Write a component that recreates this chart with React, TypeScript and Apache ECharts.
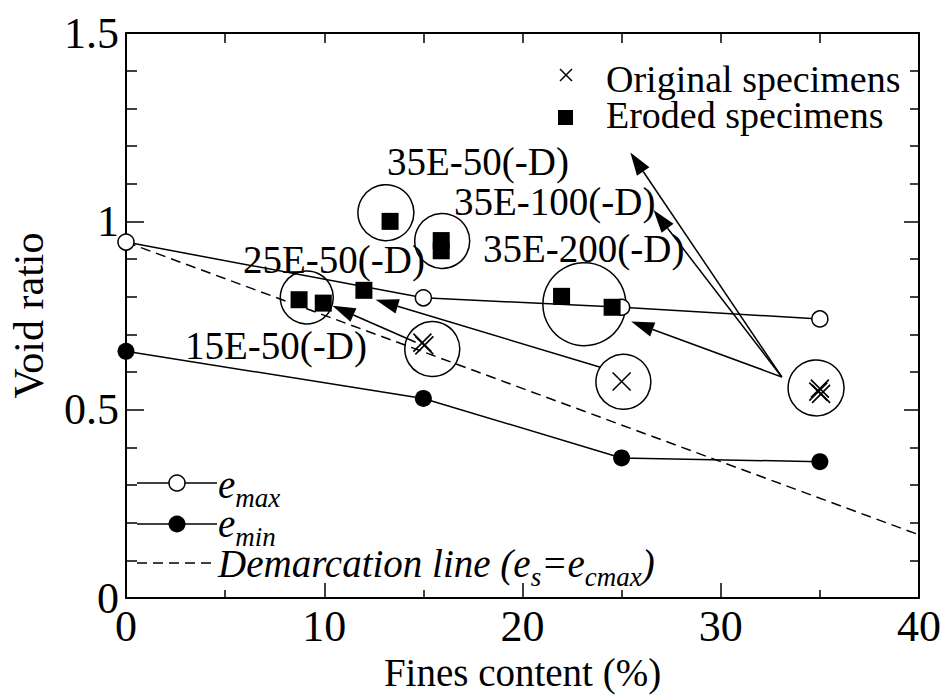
import React, { useEffect, useRef } from "react";
import * as echarts from "echarts";

// ---------- data ----------
const fines = [0, 15, 25, 35];
const eMax = [0.945, 0.797, 0.772, 0.741];
const eMin = [0.655, 0.53, 0.372, 0.362];

const demarcationX = [0, 40];
const demarcationY = [0.945, 0.168];

const originalX = [14.95, 15.05, 25.0, 34.92, 35.0, 35.06];
const originalY = [0.678, 0.671, 0.575, 0.548, 0.556, 0.542];

const erodedX = [8.73, 9.95, 12.0, 13.32, 15.9, 15.9, 21.97, 24.52];
const erodedY = [0.792, 0.783, 0.817, 1.0, 0.949, 0.922, 0.801, 0.772];

const ringX = [9.12, 13.11, 15.95, 23.12, 15.45, 25.09, 34.81];
const ringY = [0.798, 1.023, 0.948, 0.78, 0.661, 0.574, 0.558];
const ringSize = [53, 56, 55, 83, 55, 55, 56];

const arrowFromX = [14.61, 23.93, 33.08, 33.08, 33.08];
const arrowFromY = [0.679, 0.613, 0.587, 0.587, 0.587];
const arrowToX = [10.41, 12.59, 25.48, 26.61, 25.44];
const arrowToY = [0.776, 0.792, 0.734, 1.03, 1.183];

const groupLabels = ["35E-50(-D)", "35E-100(-D)", "35E-200(-D)", "25E-50(-D)", "15E-50(-D)"];
const legendNames = ["Original specimens", "Eroded specimens"];
const xAxisTitle = "Fines content (%)";
const yAxisTitle = "Void ratio";

// ---------- style helpers ----------
const SERIF = "Liberation Serif, Times New Roman, serif";

let measureCtx: CanvasRenderingContext2D | null = null;
function textWidth(text: string, size: number, italic: boolean) {
  if (!measureCtx) measureCtx = document.createElement("canvas").getContext("2d");
  if (!measureCtx) return text.length * size * 0.45;
  measureCtx.font = `${italic ? "italic " : ""}${size}px "Liberation Serif"`;
  return measureCtx.measureText(text).width;
}

// builds an italic line with subscripts: parts = [text, isSub]
function italicChain(x0: number, baseline: number, parts: [string, boolean][]) {
  const MAIN = 39;
  const SUB = 27;
  const out: any[] = [];
  let x = x0;
  for (const [t, sub] of parts) {
    const size = sub ? SUB : MAIN;
    const base = sub ? baseline + 9.5 : baseline;
    out.push({
      type: "text",
      x,
      y: base - 0.3375 * size,
      silent: true,
      style: {
        text: t,
        fill: "#000",
        fontSize: size,
        fontStyle: "italic",
        fontFamily: SERIF,
        align: "left",
        verticalAlign: "middle",
      },
    });
    x += textWidth(t, size, true);
  }
  return out;
}

function plainText(text: string, x: number, y: number, size: number) {
  return {
    type: "text",
    x,
    y,
    silent: true,
    style: {
      text,
      fill: "#000",
      fontSize: size,
      fontFamily: SERIF,
      align: "left",
      verticalAlign: "middle",
    },
  };
}

export default function App() {
  const ref = useRef<HTMLDivElement>(null);

  useEffect(() => {
    document.body.style.margin = "0";
    if (!ref.current) return;
    const chart = echarts.init(ref.current, undefined, { renderer: "svg" });

    const axisLine = { show: true, onZero: false, lineStyle: { color: "#000", width: 2 } };
    const tickStyle = { color: "#000", width: 1.5 };

    const labelPos: [number, number][] = [
      [387, 161],
      [454, 201],
      [483, 248],
      [243, 259],
      [185, 345],
    ];

    const graphics: any[] = [];
    groupLabels.forEach((t, i) => graphics.push(plainText(t, labelPos[i][0], labelPos[i][1], 39)));

    // top-right legend
    graphics.push({
      type: "group",
      silent: true,
      children: [
        { type: "line", shape: { x1: 560, y1: 69, x2: 572, y2: 81 }, style: { stroke: "#000", lineWidth: 1.5 } },
        { type: "line", shape: { x1: 560, y1: 81, x2: 572, y2: 69 }, style: { stroke: "#000", lineWidth: 1.5 } },
        { type: "rect", shape: { x: 558, y: 110, width: 15, height: 15 }, style: { fill: "#000" } },
      ],
    });
    graphics.push(plainText(legendNames[0], 606, 92 - 0.3375 * 38, 38));
    graphics.push(plainText(legendNames[1], 606, 128 - 0.3375 * 38, 38));

    // bottom-left legend
    graphics.push({
      type: "group",
      silent: true,
      children: [
        { type: "line", shape: { x1: 137, y1: 483, x2: 217, y2: 483 }, style: { stroke: "#000", lineWidth: 1.5 } },
        { type: "circle", shape: { cx: 177, cy: 483, r: 8 }, style: { fill: "#fff", stroke: "#000", lineWidth: 1.5 } },
        { type: "line", shape: { x1: 137, y1: 524, x2: 217, y2: 524 }, style: { stroke: "#000", lineWidth: 1.5 } },
        { type: "circle", shape: { cx: 177, cy: 524, r: 8.5 }, style: { fill: "#000" } },
        {
          type: "line",
          shape: { x1: 137, y1: 563, x2: 217, y2: 563 },
          style: { stroke: "#000", lineWidth: 1.5, lineDash: [10, 6] },
        },
      ],
    });
    graphics.push(...italicChain(218, 498, [["e", false], ["max", true]]));
    graphics.push(...italicChain(218, 537, [["e", false], ["min", true]]));
    graphics.push(
      ...italicChain(218, 577, [
        ["Demarcation line (", false],
        ["e", false],
        ["s", true],
        ["=", false],
        ["e", false],
        ["cmax", true],
        [")", false],
      ])
    );

    const option: any = {
      animation: false,
      backgroundColor: "#fff",
      grid: { left: 125, right: 26, top: 33, bottom: 97, containLabel: false },
      xAxis: [
        {
          type: "value",
          min: 0,
          max: 40,
          interval: 10,
          position: "bottom",
          axisLine,
          axisTick: { show: true, inside: true, length: 15, lineStyle: tickStyle },
          minorTick: { show: true, splitNumber: 2, length: 8, lineStyle: tickStyle },
          splitLine: { show: false },
          minorSplitLine: { show: false },
          axisLabel: { color: "#000", fontSize: 44, fontFamily: SERIF, margin: 6 },
          name: xAxisTitle,
          nameLocation: "middle",
          nameGap: 44,
          nameTextStyle: { color: "#000", fontSize: 39, fontFamily: SERIF },
        },
        {
          type: "value",
          min: 0,
          max: 40,
          interval: 5,
          position: "top",
          axisLine,
          axisTick: { show: true, inside: true, length: 10, lineStyle: tickStyle },
          splitLine: { show: false },
          axisLabel: { show: false },
        },
      ],
      yAxis: [
        {
          type: "value",
          min: 0,
          max: 1.5,
          interval: 0.5,
          position: "left",
          axisLine,
          axisTick: { show: true, inside: true, length: 18, lineStyle: tickStyle },
          minorTick: { show: true, splitNumber: 5, length: 11, lineStyle: tickStyle },
          splitLine: { show: false },
          minorSplitLine: { show: false },
          axisLabel: { color: "#000", fontSize: 44, fontFamily: SERIF, margin: 7 },
          name: yAxisTitle,
          nameLocation: "middle",
          nameGap: 76,
          nameTextStyle: { color: "#000", fontSize: 42, fontFamily: SERIF },
        },
        {
          type: "value",
          min: 0,
          max: 1.5,
          interval: 0.5,
          position: "right",
          axisLine,
          axisTick: { show: true, inside: true, length: 15, lineStyle: tickStyle },
          minorTick: { show: true, splitNumber: 5, length: 9, lineStyle: tickStyle },
          splitLine: { show: false },
          minorSplitLine: { show: false },
          axisLabel: { show: false },
        },
      ],
      series: [
        {
          name: "demarcation",
          type: "line",
          silent: true,
          data: demarcationX.map((x, i) => [x, demarcationY[i]]),
          symbol: "none",
          lineStyle: { color: "#000", width: 1.5, type: [10, 6] },
          z: 2,
        },
        {
          name: "emax",
          type: "line",
          silent: true,
          data: fines.map((x, i) => [x, eMax[i]]),
          symbol: "circle",
          symbolSize: 16,
          lineStyle: { color: "#000", width: 1.5 },
          itemStyle: { color: "#fff", borderColor: "#000", borderWidth: 1.5, opacity: 1 },
          z: 3,
        },
        {
          name: "emin",
          type: "line",
          silent: true,
          data: fines.map((x, i) => [x, eMin[i]]),
          symbol: "circle",
          symbolSize: 17,
          lineStyle: { color: "#000", width: 1.5 },
          itemStyle: { color: "#000", opacity: 1 },
          z: 3,
        },
        {
          name: "rings",
          type: "scatter",
          silent: true,
          data: ringX.map((x, i) => [x, ringY[i], ringSize[i]]),
          symbol: "circle",
          symbolSize: (v: number[]) => v[2],
          itemStyle: { color: "rgba(0,0,0,0)", borderColor: "#000", borderWidth: 1.5, opacity: 1 },
          z: 2,
        },
        {
          name: "Eroded specimens",
          type: "scatter",
          silent: true,
          data: erodedX.map((x, i) => [x, erodedY[i]]),
          symbol: "rect",
          symbolSize: 17,
          itemStyle: { color: "#000", opacity: 1 },
          z: 5,
        },
        {
          name: "Original specimens",
          type: "scatter",
          silent: true,
          data: originalX.map((x, i) => [x, originalY[i]]),
          symbol: "path://M0,0L10,10M10,0L0,10",
          symbolSize: 18,
          itemStyle: { color: "rgba(0,0,0,0)", borderColor: "#000", borderWidth: 1.6, opacity: 1 },
          z: 5,
        },
        {
          name: "arrows",
          type: "custom",
          silent: true,
          data: arrowFromX.map((x, i) => [x, arrowFromY[i], arrowToX[i], arrowToY[i]]),
          encode: { x: [0, 2], y: [1, 3] },
          renderItem: (params: any, api: any) => {
            const p1 = api.coord([api.value(0), api.value(1)]);
            const p2 = api.coord([api.value(2), api.value(3)]);
            const dx = p2[0] - p1[0];
            const dy = p2[1] - p1[1];
            const len = Math.hypot(dx, dy) || 1;
            const ux = dx / len;
            const uy = dy / len;
            const L = 23;
            const W = 7.5;
            const bx = p2[0] - ux * L;
            const by = p2[1] - uy * L;
            return {
              type: "group",
              children: [
                {
                  type: "line",
                  shape: { x1: p1[0], y1: p1[1], x2: bx, y2: by },
                  style: { stroke: "#000", lineWidth: 1.5 },
                },
                {
                  type: "polygon",
                  shape: {
                    points: [
                      [p2[0], p2[1]],
                      [bx - uy * W, by + ux * W],
                      [bx + uy * W, by - ux * W],
                    ],
                  },
                  style: { fill: "#000" },
                },
              ],
            };
          },
          z: 4,
        },
      ],
      graphic: graphics,
    };

    chart.setOption(option);
    return () => chart.dispose();
  }, []);

  return <div ref={ref} style={{ width: 945, height: 697 }} />;
}
